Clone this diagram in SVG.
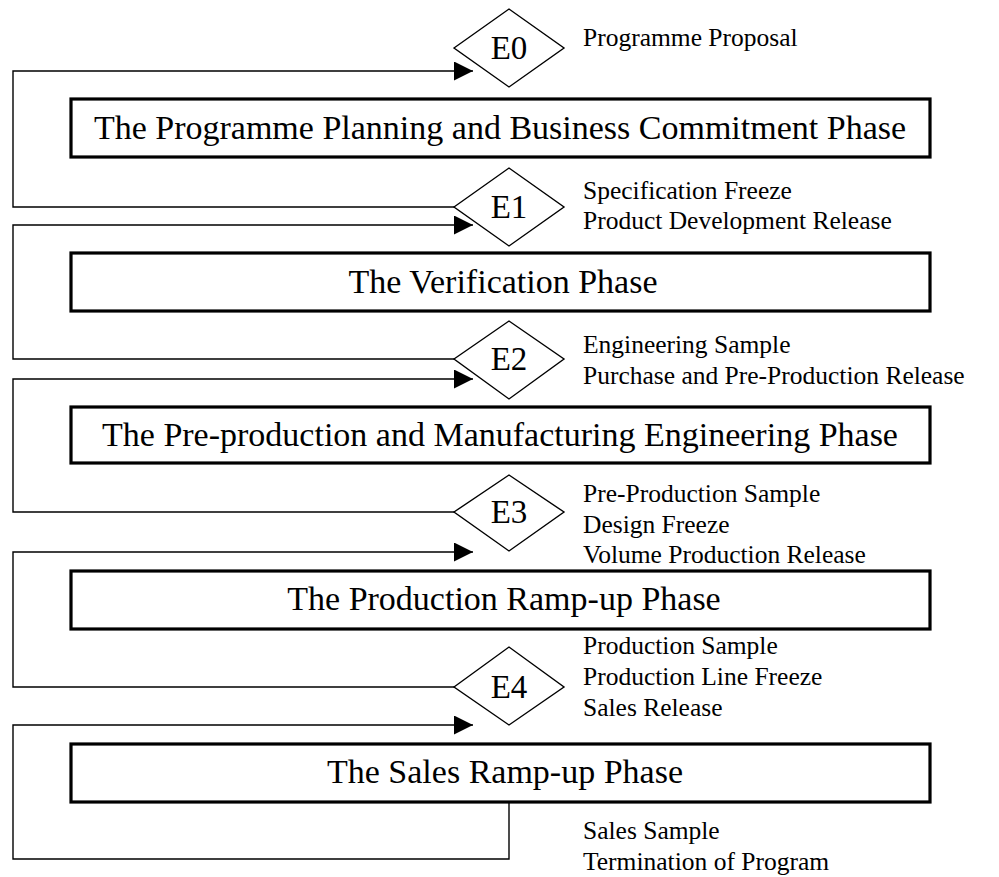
<svg xmlns="http://www.w3.org/2000/svg" width="999" height="877" viewBox="0 0 999 877">
<defs>
<style>
.box{fill:#fff;stroke:#000;stroke-width:3.2}
.dia{fill:#fff;stroke:#000;stroke-width:1.4}
.con{fill:none;stroke:#000;stroke-width:1.4}
.big{font-family:"Liberation Serif","Times New Roman",serif;font-size:34px;text-anchor:middle;fill:#000}
.gate{font-family:"Liberation Serif","Times New Roman",serif;font-size:33px;text-anchor:middle;fill:#000}
.lab{font-family:"Liberation Serif","Times New Roman",serif;font-size:25.5px;fill:#000}
</style>
<marker id="ah" viewBox="0 0 19 19" refX="19" refY="9.5" markerWidth="19" markerHeight="19" markerUnits="userSpaceOnUse" orient="auto">
<path d="M0,0 L19,9.5 L0,19 Z" fill="#000"/>
</marker>
</defs>
<rect width="999" height="877" fill="#fff"/>
<g id="connectors">
<path class="con" d="M454,207 H13 V71 H473" marker-end="url(#ah)"/>
<path class="con" d="M454,359 H13 V225 H473" marker-end="url(#ah)"/>
<path class="con" d="M454,512 H13 V379 H473" marker-end="url(#ah)"/>
<path class="con" d="M454,687 H13 V552 H473" marker-end="url(#ah)"/>
<path class="con" d="M509,802 V859 H13 V725 H473" marker-end="url(#ah)"/>
</g>
<g id="E0">
<polygon class="dia" points="454,48 509,9 564,48 509,87"/>
<text class="gate" x="509" y="59">E0</text>
<text class="lab" x="583" y="46">Programme Proposal</text>
</g>
<g id="phase1">
<rect class="box" x="71" y="99" width="859" height="58"/>
<text class="big" x="500" y="139">The Programme Planning and Business Commitment Phase</text>
</g>
<g id="E1">
<polygon class="dia" points="454,207 509,168 564,207 509,246"/>
<text class="gate" x="509" y="218">E1</text>
<text class="lab" x="583" y="199">Specification Freeze</text>
<text class="lab" x="583" y="229">Product Development Release</text>
</g>
<g id="phase2">
<rect class="box" x="71" y="253" width="859" height="58"/>
<text class="big" x="503" y="293">The Verification Phase</text>
</g>
<g id="E2">
<polygon class="dia" points="454,359 509,321 564,359 509,399"/>
<text class="gate" x="509" y="370">E2</text>
<text class="lab" x="583" y="353">Engineering Sample</text>
<text class="lab" x="583" y="384">Purchase and Pre-Production Release</text>
</g>
<g id="phase3">
<rect class="box" x="71" y="407" width="859" height="56"/>
<text class="big" x="500" y="446">The Pre-production and Manufacturing Engineering Phase</text>
</g>
<g id="E3">
<polygon class="dia" points="454,512 509,475 564,512 509,551"/>
<text class="gate" x="509" y="523">E3</text>
<text class="lab" x="583" y="502">Pre-Production Sample</text>
<text class="lab" x="583" y="533">Design Freeze</text>
<text class="lab" x="583" y="563">Volume Production Release</text>
</g>
<g id="phase4">
<rect class="box" x="71" y="571" width="859" height="58"/>
<text class="big" x="504" y="610">The Production Ramp-up Phase</text>
</g>
<g id="E4">
<polygon class="dia" points="454,687 509,647 564,687 509,725"/>
<text class="gate" x="509" y="698">E4</text>
<text class="lab" x="583" y="654">Production Sample</text>
<text class="lab" x="583" y="685">Production Line Freeze</text>
<text class="lab" x="583" y="716">Sales Release</text>
</g>
<g id="phase5">
<rect class="box" x="71" y="744" width="859" height="58"/>
<text class="big" x="505" y="783">The Sales Ramp-up Phase</text>
</g>
<g id="end">
<text class="lab" x="583" y="839">Sales Sample</text>
<text class="lab" x="583" y="870">Termination of Program</text>
</g>
</svg>
